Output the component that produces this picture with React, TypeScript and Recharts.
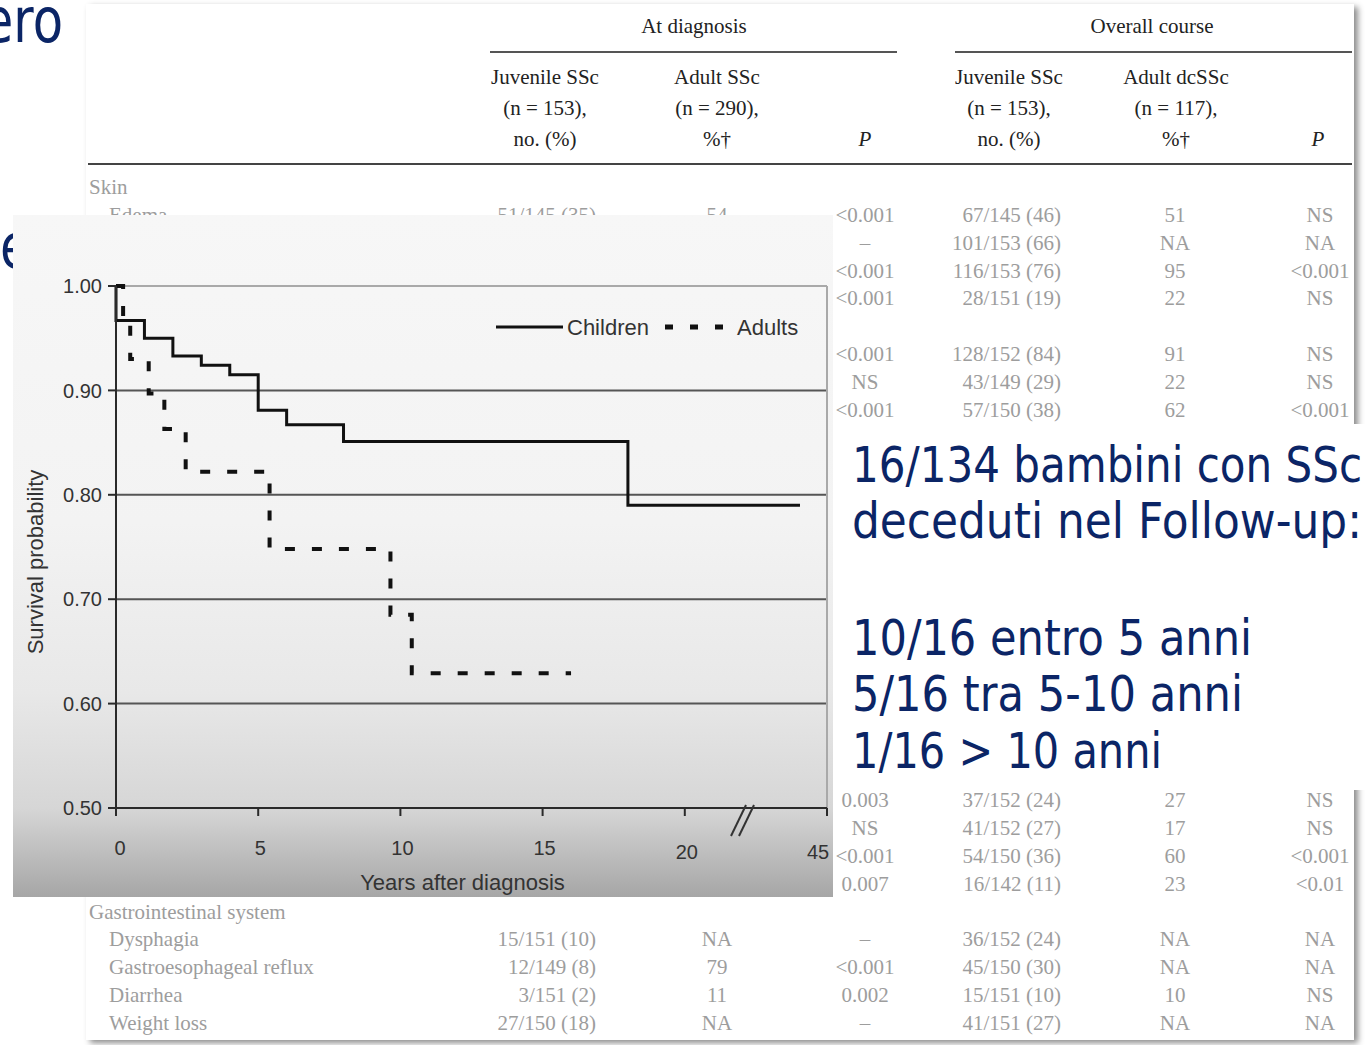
import React from "react";
import {
  LineChart,
  Line,
  XAxis,
  YAxis,
  CartesianGrid,
  Legend,
  ReferenceLine,
} from "recharts";

// x positions are on the broken axis: 0-20 are years, the last segment
// (20 → 25 on the scale) is labelled 45 after the "//" break
const childrenYears = [0, 0, 1, 2, 3, 4, 5, 6, 8, 18, 24.05];
const childrenSurvival = [1.0, 0.967, 0.95, 0.933, 0.924, 0.915, 0.881, 0.867, 0.851, 0.79, 0.79];
const adultYears = [0, 0.25, 0.5, 1.15, 1.7, 2.45, 5.4, 9.65, 10.4, 16.0];
const adultSurvival = [1.0, 0.968, 0.93, 0.897, 0.863, 0.822, 0.748, 0.685, 0.629, 0.629];

const xTicks = [0, 5, 10, 15, 20, 25];
const xTickLabels = ["0", "5", "10", "15", "20", "45"];
const yTicks = [0.5, 0.6, 0.7, 0.8, 0.9, 1.0];
const gridValues = [0.6, 0.7, 0.8, 0.9];

// background table
const groupHeaders = ["At diagnosis", "Overall course"];
const juvenileHeader = ["Juvenile SSc", "(n = 153),", "no. (%)"];
const adultDiagHeader = ["Adult SSc", "(n = 290),", "%†"];
const adultCourseHeader = ["Adult dcSSc", "(n = 117),", "%†"];

const tableRows: (string[] | string | null)[] = [
  "Skin",
  ["Edema", "51/145 (35)", "54", "<0.001", "67/145 (46)", "51", "NS"],
  ["", "", "", "–", "101/153 (66)", "NA", "NA"],
  ["", "", "", "<0.001", "116/153 (76)", "95", "<0.001"],
  ["", "", "", "<0.001", "28/151 (19)", "22", "NS"],
  null,
  ["", "", "", "<0.001", "128/152 (84)", "91", "NS"],
  ["", "", "", "NS", "43/149 (29)", "22", "NS"],
  ["", "", "", "<0.001", "57/150 (38)", "62", "<0.001"],
  null, null, null, null, null, null, null, null, null, null, null, null, null,
  ["", "", "", "0.003", "37/152 (24)", "27", "NS"],
  ["", "", "", "NS", "41/152 (27)", "17", "NS"],
  ["", "", "", "<0.001", "54/150 (36)", "60", "<0.001"],
  ["", "", "", "0.007", "16/142 (11)", "23", "<0.01"],
  "Gastrointestinal system",
  ["Dysphagia", "15/151 (10)", "NA", "–", "36/152 (24)", "NA", "NA"],
  ["Gastroesophageal reflux", "12/149 (8)", "79", "<0.001", "45/150 (30)", "NA", "NA"],
  ["Diarrhea", "3/151 (2)", "11", "0.002", "15/151 (10)", "10", "NS"],
  ["Weight loss", "27/150 (18)", "NA", "–", "41/151 (27)", "NA", "NA"],
];

const noteLines = [
  "16/134 bambini con SSc",
  "deceduti nel Follow-up:",
  "",
  "10/16 entro 5 anni",
  "5/16 tra 5-10 anni",
  "1/16 > 10 anni",
];

const childrenData = childrenYears.map((t, i) => ({ t, s: childrenSurvival[i] }));
const adultData = adultYears.map((t, i) => ({ t, s: adultSurvival[i] }));

const serif = "'Liberation Serif', 'Times New Roman', serif";
const sans = "'Liberation Sans', Arial, sans-serif";
const navy = "#0b2566";

type Col = { x: number; align: "left" | "right" | "center" };
const cols: Col[] = [
  { x: 109, align: "left" },
  { x: 596, align: "right" },
  { x: 717, align: "center" },
  { x: 865, align: "center" },
  { x: 1061, align: "right" },
  { x: 1175, align: "center" },
  { x: 1320, align: "center" },
];

function Cell({ x, y, align, children, color, italic }: any) {
  const w = 300;
  const left = align === "left" ? x : align === "right" ? x - w : x - w / 2;
  return (
    <div
      style={{
        position: "absolute",
        left,
        top: y - 14,
        width: w,
        height: 28,
        lineHeight: "28px",
        textAlign: align,
        fontFamily: serif,
        fontSize: 21,
        color,
        fontStyle: italic ? "italic" : "normal",
        whiteSpace: "nowrap",
      }}
    >
      {children}
    </div>
  );
}

function XTick({ x, y, payload }: any) {
  const i = xTicks.indexOf(payload.value);
  const low = payload.value >= 20;
  const dx = payload.value === 25 ? -7 : payload.value === 0 ? 4 : 2;
  return (
    <text x={x + dx} y={y + (low ? 4 : 0)} dy="0.71em" textAnchor="middle" fontSize={20} fill="#333">
      {xTickLabels[i]}
    </text>
  );
}

function YTitle({ viewBox }: any) {
  const cx = viewBox.x + 22;
  const cy = viewBox.y + viewBox.height / 2 + 15;
  return (
    <text
      x={cx}
      y={cy}
      transform={`rotate(-90, ${cx}, ${cy})`}
      textAnchor="middle"
      dominantBaseline="central"
      fontSize={22}
      fill="#333"
    >
      Survival probability
    </text>
  );
}

function KMLegend({ payload }: any) {
  const items = payload || [];
  const c = items.find((p: any) => p.value === "Children");
  const a = items.find((p: any) => p.value === "Adults");
  return (
    <svg width={320} height={30}>
      {c && (
        <>
          <line x1={0} y1={15} x2={67} y2={15} stroke={c.color} strokeWidth={3} />
          <text x={71} y={23} fontSize={22} fill="#333">{c.value}</text>
        </>
      )}
      {a && (
        <>
          <line x1={169} y1={15} x2={231} y2={15} stroke={a.color} strokeWidth={5} strokeDasharray="8 17" />
          <text x={241} y={23} fontSize={22} fill="#333">{a.value}</text>
        </>
      )}
    </svg>
  );
}

function SurvivalChart() {
  return (
    <LineChart width={820} height={682} margin={{ top: 71, right: 6, bottom: 7, left: 0 }}>
      <CartesianGrid
        horizontal
        vertical={false}
        horizontalValues={gridValues}
        stroke="#555"
        strokeWidth={2}
      />
      <ReferenceLine y={1} stroke="#a9a9a9" strokeWidth={2} />
      <ReferenceLine x={25} stroke="#a9a9a9" strokeWidth={2} />
      <XAxis
        type="number"
        dataKey="t"
        domain={[0, 25]}
        ticks={xTicks}
        height={82}
        tickSize={8}
        tickMargin={25}
        tick={<XTick />}
        axisLine={{ stroke: "#2a2a2a", strokeWidth: 2 }}
        tickLine={{ stroke: "#2a2a2a", strokeWidth: 2 }}
        label={{
          value: "Years after diagnosis",
          position: "insideBottom",
          offset: 0,
          dx: -9,
          fontSize: 22,
          fill: "#333",
        }}
      />
      <YAxis
        type="number"
        domain={[0.5, 1]}
        ticks={yTicks}
        width={103}
        tickSize={8}
        tickMargin={6}
        tickFormatter={(v: number) => v.toFixed(2)}
        tick={{ fontSize: 20, fill: "#333" }}
        axisLine={{ stroke: "#2a2a2a", strokeWidth: 2 }}
        tickLine={{ stroke: "#2a2a2a", strokeWidth: 2 }}
        label={{ content: <YTitle /> }}
      />
      <Legend
        content={<KMLegend />}
        layout="vertical"
        align="center"
        verticalAlign="middle"
        wrapperStyle={{ left: 483, top: 97, width: 320, height: 30 }}
      />
      <Line
        data={childrenData}
        dataKey="s"
        name="Children"
        type="stepAfter"
        stroke="#111"
        strokeWidth={3}
        dot={false}
        isAnimationActive={false}
      />
      <Line
        data={adultData}
        dataKey="s"
        name="Adults"
        type="stepAfter"
        stroke="#111"
        strokeWidth={4}
        strokeDasharray="10 17"
        dot={false}
        isAnimationActive={false}
      />
    </LineChart>
  );
}

export default function App() {
  return (
    <div
      style={{
        position: "absolute",
        left: 0,
        top: 0,
        width: 1370,
        height: 1045,
        background: "#fff",
        overflow: "hidden",
      }}
    >
      {/* slide title fragments behind the figures */}
      <svg width={86} height={300} style={{ position: "absolute", left: 0, top: 0 }}>
        <text transform="translate(63,42) scale(0.8,1)" textAnchor="end" fontFamily="'DejaVu Sans'" fontSize={62} fill={navy}>
          ero
        </text>
        <text transform="translate(0,268) scale(0.8,1)" fontFamily="'DejaVu Sans'" fontSize={62} fill={navy}>
          e
        </text>
      </svg>

      {/* table card */}
      <div
        style={{
          position: "absolute",
          left: 86,
          top: 4,
          width: 1268,
          height: 1036,
          background: "#fff",
          boxShadow: "4px 3px 6px rgba(0,0,0,0.45)",
        }}
      />
      <Cell x={694} y={26} align="center" color="#222">{groupHeaders[0]}</Cell>
      <Cell x={1152} y={26} align="center" color="#222">{groupHeaders[1]}</Cell>
      <div style={{ position: "absolute", left: 490, top: 51, width: 407, height: 2, background: "#555" }} />
      <div style={{ position: "absolute", left: 955, top: 51, width: 397, height: 2, background: "#555" }} />
      {juvenileHeader.map((t, i) => (
        <Cell key={"jd" + i} x={545} y={77 + i * 31} align="center" color="#222">{t}</Cell>
      ))}
      {adultDiagHeader.map((t, i) => (
        <Cell key={"ad" + i} x={717} y={77 + i * 31} align="center" color="#222">{t}</Cell>
      ))}
      {juvenileHeader.map((t, i) => (
        <Cell key={"jc" + i} x={1009} y={77 + i * 31} align="center" color="#222">{t}</Cell>
      ))}
      {adultCourseHeader.map((t, i) => (
        <Cell key={"ac" + i} x={1176} y={77 + i * 31} align="center" color="#222">{t}</Cell>
      ))}
      <Cell x={865} y={139} align="center" color="#222" italic>P</Cell>
      <Cell x={1318} y={139} align="center" color="#222" italic>P</Cell>
      <div style={{ position: "absolute", left: 88, top: 163, width: 1264, height: 2, background: "#444" }} />
      {tableRows.map((row, i) => {
        const y = 187 + i * 27.87;
        if (row === null) return null;
        if (typeof row === "string")
          return <Cell key={"r" + i} x={89} y={y} align="left" color="#9d9d9d">{row}</Cell>;
        return row.map((v, j) =>
          v ? (
            <Cell key={"r" + i + "c" + j} x={cols[j].x} y={y} align={cols[j].align} color="#9d9d9d">
              {v}
            </Cell>
          ) : null
        );
      })}

      {/* survival figure */}
      <div
        style={{
          position: "absolute",
          left: 13,
          top: 215,
          width: 820,
          height: 682,
          fontFamily: sans,
          background:
            "linear-gradient(to bottom, #f7f7f7 0%, #f3f3f3 45%, #e8e8e8 70%, #d6d6d6 87%, #a6a6a6 100%)",
        }}
      >
        <SurvivalChart />
        <svg width={820} height={682} style={{ position: "absolute", left: 0, top: 0, pointerEvents: "none" }}>
          <line x1={733} y1={590} x2={718} y2={621} stroke="#333" strokeWidth={2} />
          <line x1={741} y1={590} x2={726} y2={621} stroke="#333" strokeWidth={2} />
        </svg>
      </div>

      {/* note box */}
      <div style={{ position: "absolute", left: 833, top: 424, width: 537, height: 366, background: "#fff" }}>
        <svg width={537} height={366}>
          {noteLines.map((t, i) =>
            t ? (
              <text
                key={i}
                x={19}
                y={[58, 114, 0, 231, 287, 344][i]}
                textLength={[510, 510, 0, 400, 391, 310][i]}
                lengthAdjust="spacingAndGlyphs"
                fontFamily="'DejaVu Sans'"
                fontSize={50}
                fill={navy}
              >
                {t}
              </text>
            ) : null
          )}
        </svg>
      </div>
    </div>
  );
}
